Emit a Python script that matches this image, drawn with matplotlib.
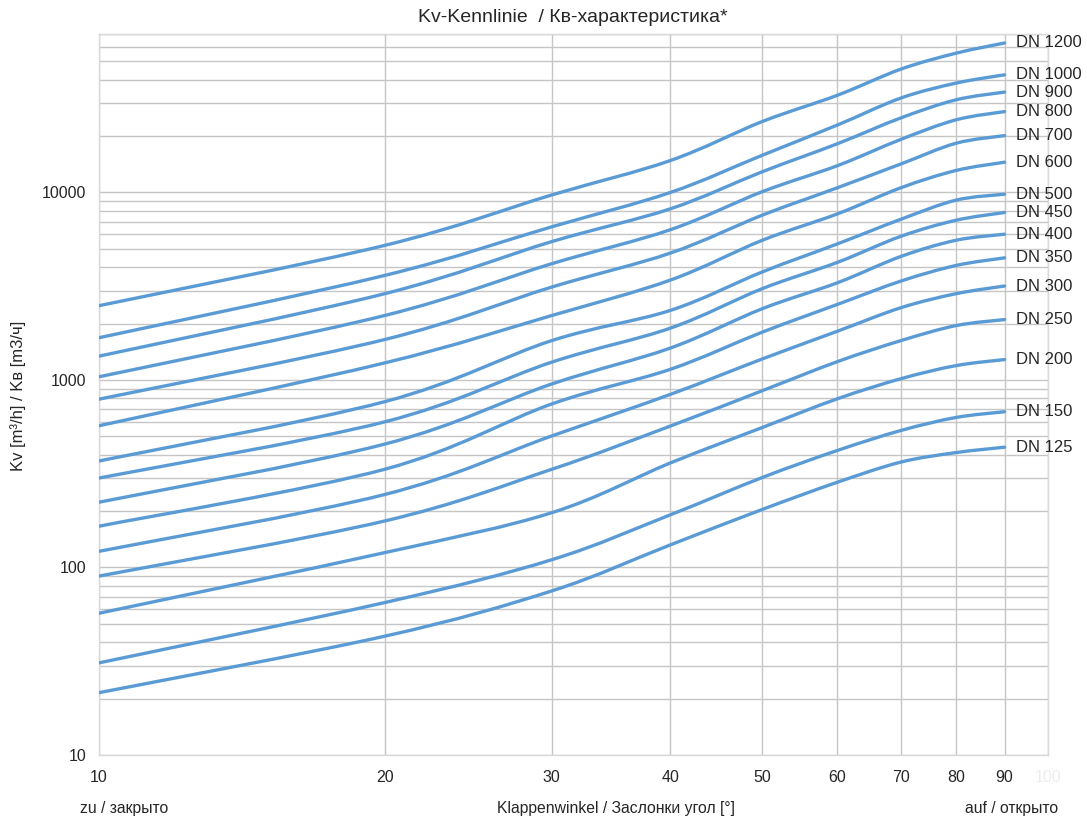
import numpy as np
import matplotlib
matplotlib.use("Agg")
import matplotlib.pyplot as plt
from matplotlib.path import Path
from matplotlib.patches import PathPatch

plt.rcParams['font.family'] = ['Liberation Sans', 'DejaVu Sans']

# ---- data ----
angles = [10, 20, 30, 40, 50, 60, 70, 80, 90]
series_names = ["DN 1200", "DN 1000", "DN 900", "DN 800", "DN 700", "DN 600",
                "DN 500", "DN 450", "DN 400", "DN 350", "DN 300", "DN 250",
                "DN 200", "DN 150", "DN 125"]
dn1200 = [2490, 5220, 9700, 14800, 23900, 33000, 45500, 55300, 62700]
dn1000 = [1680, 3610, 6560, 10000, 15800, 22900, 31900, 38300, 42400]
dn900 = [1340, 2885, 5470, 8180, 12900, 18200, 25000, 31200, 34300]
dn800 = [1040, 2207, 4170, 6330, 10100, 13900, 19200, 24400, 27000]
dn700 = [790, 1643, 3130, 4750, 7570, 10600, 14200, 18300, 20100]
dn600 = [570, 1233, 2207, 3410, 5560, 7690, 10600, 13100, 14500]
dn500 = [370, 766, 1622, 2350, 3770, 5320, 7200, 9100, 9790]
dn450 = [300, 598, 1245, 1890, 3070, 4240, 5840, 7110, 7820]
dn400 = [223, 455, 952, 1480, 2400, 3300, 4560, 5560, 5990]
dn350 = [166, 334, 745, 1140, 1800, 2530, 3370, 4080, 4480]
dn300 = [122, 245, 503, 838, 1295, 1820, 2430, 2885, 3170]
dn250 = [90, 177, 334, 568, 877, 1253, 1622, 1950, 2100]
dn200 = [57, 120, 196, 361, 558, 794, 1016, 1193, 1285]
dn150 = [31, 65, 110, 191, 302, 421, 538, 631, 677]
dn125 = [21.5, 43, 75, 132, 204, 285, 365, 410, 438]
series_values = [dn1200, dn1000, dn900, dn800, dn700, dn600, dn500, dn450,
                 dn400, dn350, dn300, dn250, dn200, dn150, dn125]

x_ticks = [10, 20, 30, 40, 50, 60, 70, 80, 90]
y_ticks = [10, 100, 1000, 10000]

title = "Kv-Kennlinie  / Кв-характеристика*"
y_label = "Kv [m³/h] / Kв [m3/ч]"
x_label = "Klappenwinkel / Заслонки угол [°]"
left_note = "zu / закрыто"
right_note = "auf / открыто"

LINE_COLOR = "#5b9bd5"
GRID_COLOR = "#c6c6c6"
TEXT_COLOR = "#262626"


def smooth_path(xs, ys):
    """Smoothed (Excel-like) curve through the data points as a Bezier path."""
    P = np.column_stack([np.log10(xs), np.log10(ys)])
    n = len(P)
    verts = [P[0]]
    codes = [Path.MOVETO]
    for i in range(n - 1):
        p0 = P[i - 1] if i > 0 else P[i]
        p1 = P[i]
        p2 = P[i + 1]
        p3 = P[i + 2] if i + 2 < n else P[i + 1]
        c1 = p1 + (p2 - p0) / 6.0
        c2 = p2 - (p3 - p1) / 6.0
        verts += [c1, c2, p2]
        codes += [Path.CURVE4] * 3
    return Path(10 ** np.array(verts), codes)


W, H = 1087, 821
fig = plt.figure(figsize=(W / 100, H / 100), dpi=100)
ax = fig.add_axes([99 / W, (H - 755) / H, 949 / W, (755 - 34) / H])

ax.set_xscale("log")
ax.set_yscale("log")
ax.set_xlim(10, 100)
ax.set_ylim(10, 70000)

# grid
for xv in x_ticks + [100]:
    ax.axvline(xv, color=GRID_COLOR, lw=1.0, zorder=1)
for dec in [10, 100, 1000, 10000]:
    for m in range(1, 10):
        yv = dec * m
        if 10 <= yv <= 70000:
            ax.axhline(yv, color=GRID_COLOR, lw=1.0, zorder=1)

for sp in ax.spines.values():
    sp.set_color("#d9d9d9")
    sp.set_linewidth(1.0)

# curves
for name, vals in zip(series_names, series_values):
    patch = PathPatch(smooth_path(angles, vals), fill=False, edgecolor=LINE_COLOR,
                      lw=2.4, capstyle="round", joinstyle="round", zorder=3)
    ax.add_patch(patch)
    ax.annotate(name, xy=(angles[-1], vals[-1]), xytext=(8, 0),
                textcoords="offset points", va="center", ha="left",
                fontsize=12, color=TEXT_COLOR, zorder=4, annotation_clip=False)

# ticks
ax.xaxis.set_minor_locator(matplotlib.ticker.NullLocator())
ax.yaxis.set_minor_locator(matplotlib.ticker.NullLocator())
ax.set_xticks(x_ticks + [100])
ax.set_xticklabels([str(v) for v in x_ticks] + ["100"])
ax.set_yticks(y_ticks)
ax.set_yticklabels([str(v) for v in y_ticks])
ax.tick_params(axis="both", length=0, labelsize=11.5, labelcolor=TEXT_COLOR)
ax.tick_params(axis="x", pad=11)
ax.tick_params(axis="y", pad=9)
ax.get_xticklabels()[-1].set_color("#ececec")

fig.text(573 / W, 1 - 17 / H, title, ha="center", va="center", fontsize=14,
         color=TEXT_COLOR)
fig.text(18 / W, 1 - 396 / H, y_label, ha="center", va="center", rotation=90,
         fontsize=12, color=TEXT_COLOR)
fig.text(124 / W, 1 - 808 / H, left_note, ha="center", va="center", fontsize=11.3,
         color=TEXT_COLOR)
fig.text(616 / W, 1 - 808 / H, x_label, ha="center", va="center", fontsize=11.3,
         color=TEXT_COLOR)
fig.text(1012 / W, 1 - 808 / H, right_note, ha="center", va="center", fontsize=11.3,
         color=TEXT_COLOR)

fig.savefig("out.png", dpi=100)
